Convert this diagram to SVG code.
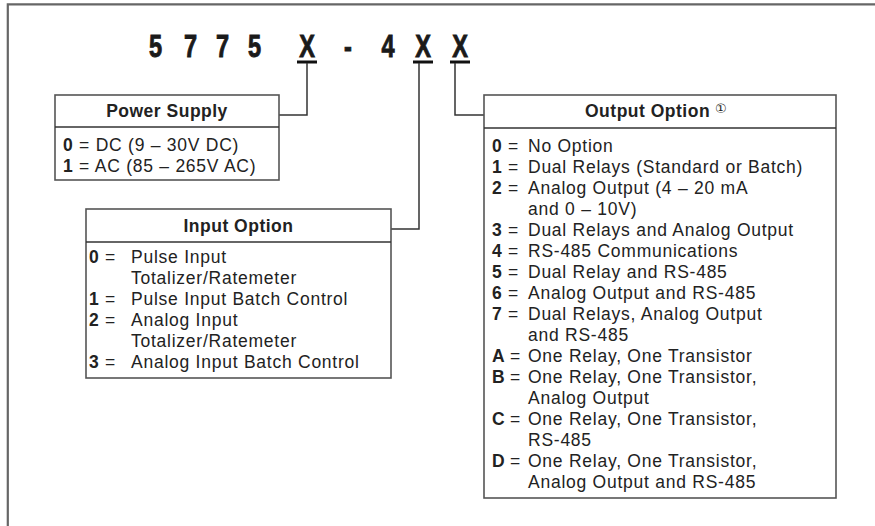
<svg xmlns="http://www.w3.org/2000/svg" width="875" height="526" viewBox="0 0 875 526">
<style>
.frame{fill:none;stroke:#666;stroke-width:2.2}
.box{fill:#fff;stroke:#555;stroke-width:1.6}
.sep{stroke:#333;stroke-width:1.6}
.conn{fill:none;stroke:#333;stroke-width:1.5}
.ul{stroke:#111;stroke-width:3}
.t{font-family:"Liberation Sans",Arial,sans-serif;font-size:17.5px;letter-spacing:0.75px;fill:#222}
.h{font-family:"Liberation Sans",Arial,sans-serif;font-size:17.5px;font-weight:bold;letter-spacing:0.5px;fill:#222}
.b{font-weight:bold}
.big{font-family:"Liberation Sans",Arial,sans-serif;font-size:31px;font-weight:bold;fill:#1a1a1a;stroke:#1a1a1a;stroke-width:0.9;text-anchor:middle}
.circ{font-family:"DejaVu Sans",sans-serif;font-size:13px;fill:#222}
</style>
<path class="frame" d="M7.8,526 V4.3 H875"/>
<g id="title">
<text class="big" transform="translate(155.5,56.5) scale(0.76,1)">5</text>
<text class="big" transform="translate(190.5,56.5) scale(0.76,1)">7</text>
<text class="big" transform="translate(222.5,56.5) scale(0.76,1)">7</text>
<text class="big" transform="translate(254.5,56.5) scale(0.76,1)">5</text>
<text class="big" transform="translate(307,56.5) scale(0.76,1)">X</text>
<text class="big" transform="translate(348,56.5) scale(0.76,1)">-</text>
<text class="big" transform="translate(388,56.5) scale(0.76,1)">4</text>
<text class="big" transform="translate(423,56.5) scale(0.76,1)">X</text>
<text class="big" transform="translate(460,56.5) scale(0.76,1)">X</text>
<line class="ul" x1="297" y1="62" x2="317" y2="62"/>
<line class="ul" x1="413" y1="62" x2="433" y2="62"/>
<line class="ul" x1="450" y1="62" x2="470" y2="62"/>
</g>
<g id="connectors">
<path class="conn" d="M307,63 V115 H279"/>
<path class="conn" d="M419,63 V229 H391"/>
<path class="conn" d="M455,63 V115 H484"/>
</g>
<g id="power-supply">
<rect class="box" x="55" y="95" width="224" height="85"/>
<line class="sep" x1="55" y1="127" x2="279" y2="127"/>
<text class="h" x="167" y="117" text-anchor="middle">Power Supply</text>
<text class="t" x="63" y="151"><tspan class="b">0</tspan> = DC (9 – 30V DC)</text>
<text class="t" x="63" y="172"><tspan class="b">1</tspan> = AC (85 – 265V AC)</text>
</g>
<g id="input-option">
<rect class="box" x="86" y="209" width="305" height="169"/>
<line class="sep" x1="86" y1="242" x2="391" y2="242"/>
<text class="h" x="238.5" y="232" text-anchor="middle">Input Option</text>
<g class="t">
<text x="89" y="263" class="b">0</text><text x="105" y="263">=</text><text x="131" y="263">Pulse Input</text>
<text x="131" y="284">Totalizer/Ratemeter</text>
<text x="89" y="305" class="b">1</text><text x="105" y="305">=</text><text x="131" y="305">Pulse Input Batch Control</text>
<text x="89" y="326" class="b">2</text><text x="105" y="326">=</text><text x="131" y="326">Analog Input</text>
<text x="131" y="347">Totalizer/Ratemeter</text>
<text x="89" y="368" class="b">3</text><text x="105" y="368">=</text><text x="131" y="368">Analog Input Batch Control</text>
</g>
</g>
<g id="output-option">
<rect class="box" x="484" y="95" width="352" height="403"/>
<line class="sep" x1="484" y1="128" x2="836" y2="128"/>
<text class="h" x="585" y="117">Output Option</text>
<text class="circ" x="715" y="113">①</text>
<g class="t">
<text x="492" y="152" class="b">0</text><text x="508" y="152">=</text><text x="528" y="152">No Option</text>
<text x="492" y="173" class="b">1</text><text x="508" y="173">=</text><text x="528" y="173">Dual Relays (Standard or Batch)</text>
<text x="492" y="194" class="b">2</text><text x="508" y="194">=</text><text x="528" y="194">Analog Output (4 – 20 mA</text>
<text x="528" y="215">and 0 – 10V)</text>
<text x="492" y="236" class="b">3</text><text x="508" y="236">=</text><text x="528" y="236">Dual Relays and Analog Output</text>
<text x="492" y="257" class="b">4</text><text x="508" y="257">=</text><text x="528" y="257">RS-485 Communications</text>
<text x="492" y="278" class="b">5</text><text x="508" y="278">=</text><text x="528" y="278">Dual Relay and RS-485</text>
<text x="492" y="299" class="b">6</text><text x="508" y="299">=</text><text x="528" y="299">Analog Output and RS-485</text>
<text x="492" y="320" class="b">7</text><text x="508" y="320">=</text><text x="528" y="320">Dual Relays, Analog Output</text>
<text x="528" y="341">and RS-485</text>
<text x="492" y="362" class="b">A</text><text x="510" y="362">=</text><text x="528" y="362">One Relay, One Transistor</text>
<text x="492" y="383" class="b">B</text><text x="510" y="383">=</text><text x="528" y="383">One Relay, One Transistor,</text>
<text x="528" y="404">Analog Output</text>
<text x="492" y="425" class="b">C</text><text x="510" y="425">=</text><text x="528" y="425">One Relay, One Transistor,</text>
<text x="528" y="446">RS-485</text>
<text x="492" y="467" class="b">D</text><text x="510" y="467">=</text><text x="528" y="467">One Relay, One Transistor,</text>
<text x="528" y="488">Analog Output and RS-485</text>
</g>
</g>
</svg>
